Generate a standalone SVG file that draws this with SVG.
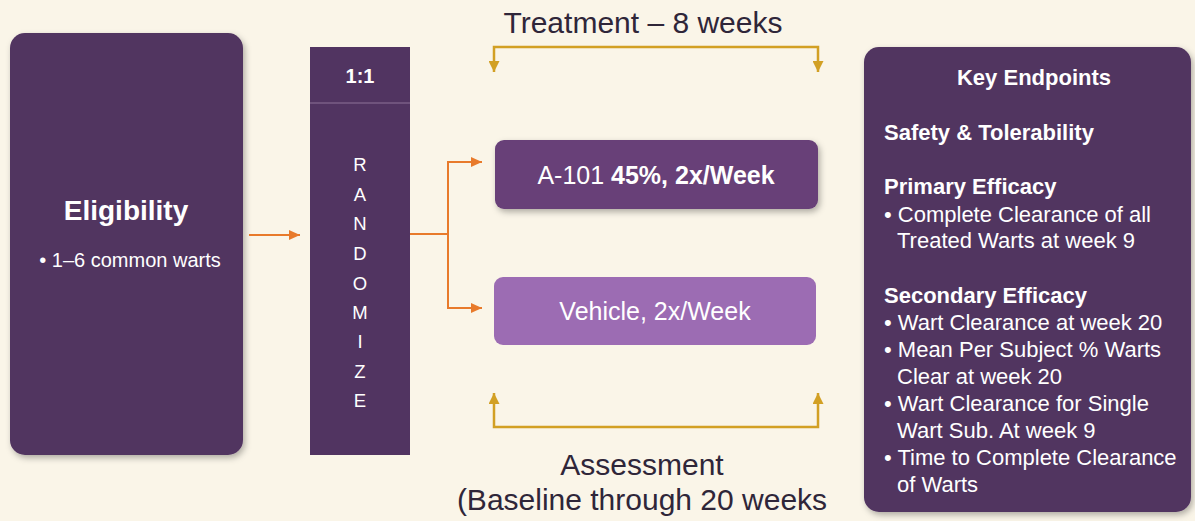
<svg xmlns="http://www.w3.org/2000/svg" width="1195" height="521" viewBox="0 0 1195 521">
  <style>
    text { font-family: "Liberation Sans", Arial, sans-serif; }
    .w { fill: #FFFFFF; }
    .lbl { fill: #2F2639; font-size: 30px; }
    .dark { fill: #513461; }
    .orange { fill: none; stroke: #E87A2B; stroke-width: 2; }
    .gold { fill: none; stroke: #D2A024; stroke-width: 2.5; }
    .ke { font-size: 22px; fill: #FFFFFF; }
    .keb { font-size: 22px; font-weight: bold; fill: #FFFFFF; }
  </style>
  <defs>
    <filter id="sh" x="-10%" y="-10%" width="125%" height="125%">
      <feDropShadow dx="2" dy="3" stdDeviation="3" flood-color="#000" flood-opacity="0.3"/>
    </filter>
    <marker id="ao" markerUnits="userSpaceOnUse" markerWidth="12" markerHeight="10" refX="11" refY="5" orient="auto-start-reverse">
      <path d="M0,0 L11,5 L0,10 z" fill="#E87A2B"/>
    </marker>
    <marker id="ag" markerUnits="userSpaceOnUse" markerWidth="12" markerHeight="11" refX="11" refY="5.5" orient="auto-start-reverse">
      <path d="M0,0 L11,5.5 L0,11 z" fill="#D2A024"/>
    </marker>
  </defs>
  <rect width="1195" height="521" fill="#FAF5E8"/>

  <g id="eligibility">
    <rect x="10" y="33" width="233" height="422" rx="15" class="dark" filter="url(#sh)"/>
    <text x="126" y="220" text-anchor="middle" class="w" font-size="28" font-weight="bold">Eligibility</text>
    <text x="130" y="267" text-anchor="middle" class="w" font-size="20">• 1–6 common warts</text>
  </g>

  <g id="randomize">
    <rect x="310" y="47" width="100" height="408" class="dark"/>
    <line x1="310" y1="103" x2="410" y2="103" stroke="#8E7399" stroke-width="1"/>
    <text x="360" y="83" text-anchor="middle" class="w" font-size="20" font-weight="bold">1:1</text>
    <g class="w" font-size="18.5" text-anchor="middle">
      <text x="360" y="171">R</text>
      <text x="360" y="201">A</text>
      <text x="360" y="230">N</text>
      <text x="360" y="260">D</text>
      <text x="360" y="290">O</text>
      <text x="360" y="319">M</text>
      <text x="360" y="348">I</text>
      <text x="360" y="378">Z</text>
      <text x="360" y="407">E</text>
    </g>
  </g>

  <g id="arm-a101">
    <rect x="495" y="140" width="323" height="69" rx="9" fill="#673F78" filter="url(#sh)"/>
    <text x="656" y="184" text-anchor="middle" class="w" font-size="25">A-101 <tspan font-weight="bold">45%, 2x/Week</tspan></text>
  </g>

  <g id="arm-vehicle">
    <rect x="494" y="277" width="322" height="68" rx="9" fill="#9C6CB3"/>
    <text x="655" y="320" text-anchor="middle" class="w" font-size="25">Vehicle, 2x/Week</text>
  </g>

  <g id="treatment-label">
    <text x="643" y="33" text-anchor="middle" class="lbl">Treatment – 8 weeks</text>
  </g>

  <g id="assessment-label">
    <text x="642" y="475" text-anchor="middle" class="lbl">Assessment</text>
    <text x="642" y="510" text-anchor="middle" class="lbl">(Baseline through 20 weeks</text>
  </g>

  <g id="key-endpoints">
    <rect x="864" y="47" width="327" height="465" rx="15" class="dark" filter="url(#sh)"/>
    <text x="1034" y="85" text-anchor="middle" class="keb">Key Endpoints</text>
    <text x="884" y="140" class="keb">Safety &amp; Tolerability</text>
    <text x="884" y="194" class="keb">Primary Efficacy</text>
    <text x="884" y="222" class="ke">• Complete Clearance of all</text>
    <text x="897" y="248" class="ke">Treated Warts at week 9</text>
    <text x="884" y="303" class="keb">Secondary Efficacy</text>
    <text x="884" y="330" class="ke">• Wart Clearance at week 20</text>
    <text x="884" y="357" class="ke">• Mean Per Subject % Warts</text>
    <text x="897" y="384" class="ke">Clear at week 20</text>
    <text x="884" y="411" class="ke">• Wart Clearance for Single</text>
    <text x="897" y="438" class="ke">Wart Sub. At week 9</text>
    <text x="884" y="465" class="ke">• Time to Complete Clearance</text>
    <text x="897" y="492" class="ke">of Warts</text>
  </g>

  <g id="connectors">
    <path d="M249,235 H300" class="orange" marker-end="url(#ao)"/>
    <path d="M410,234 H448" class="orange"/>
    <path d="M482,162 H448 V308 H482" class="orange" marker-start="url(#ao)" marker-end="url(#ao)"/>
    <path d="M494,72 V47 H818 V72" class="gold" marker-start="url(#ag)" marker-end="url(#ag)"/>
    <path d="M494,393 V427 H818 V393" class="gold" marker-start="url(#ag)" marker-end="url(#ag)"/>
  </g>
</svg>
